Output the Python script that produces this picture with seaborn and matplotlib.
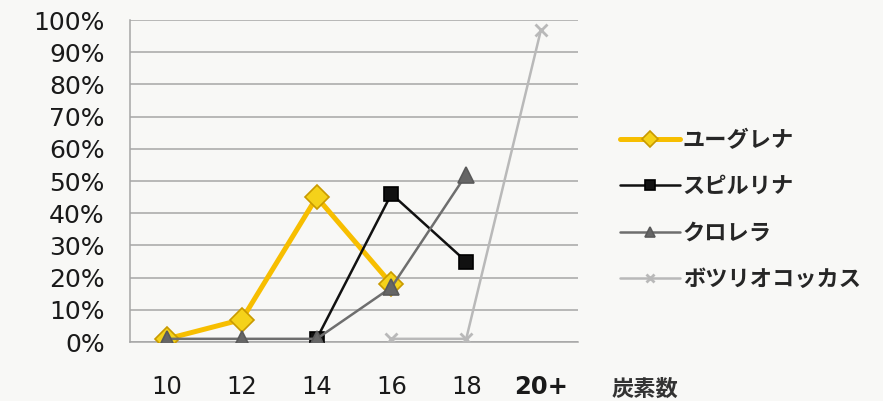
import numpy as np
import pandas as pd
import seaborn as sns
import matplotlib.pyplot as plt
from matplotlib.ticker import FixedLocator, PercentFormatter

sns.set_style("white")
plt.rcParams["font.family"] = ["DejaVu Sans", "Noto Sans CJK JP"]

# Carbon-number categories and fatty-acid share (%) for each alga
categories = ["10", "12", "14", "16", "18", "20+"]
euglena = [1, 7, 45, 18, np.nan, np.nan]
spirulina = [np.nan, np.nan, 1, 46, 25, np.nan]
chlorella = [1, 1, 1, 17, 52, np.nan]
botryococcus = [np.nan, np.nan, np.nan, 1, 1, 97]

series_names = ["ユーグレナ", "スピルリナ", "クロレラ", "ボツリオコッカス"]
series_values = [euglena, spirulina, chlorella, botryococcus]

rows = []
for name, vals in zip(series_names, series_values):
    for i, v in enumerate(vals):
        if not np.isnan(v):
            rows.append({"pos": i, "value": v, "series": name})
df = pd.DataFrame(rows)

styles = {
    "ユーグレナ": dict(color="#F7BE00", lw=3.6, marker="D", ms=12, mfc="#F5D21A", mec="#C99A00"),
    "スピルリナ": dict(color="#111111", lw=1.8, marker="s", ms=10, mfc="#111111", mec="#000000"),
    "クロレラ": dict(color="#6E6E6E", lw=1.8, marker="^", ms=11, mfc="#666666", mec="#5a5a5a"),
    "ボツリオコッカス": dict(color="#B9B9B9", lw=1.8, marker="x", ms=9, mfc="#B9B9B9", mec="#B9B9B9"),
}

bg = "#F8F8F6"
fig = plt.figure(figsize=(8.83, 4.01), dpi=100, facecolor=bg)
ax = fig.add_axes([0.147, 0.147, 0.508, 0.803])
ax.set_facecolor(bg)

for name in series_names:
    st = styles[name]
    sns.lineplot(
        data=df[df["series"] == name], x="pos", y="value", ax=ax,
        color=st["color"], linewidth=st["lw"], marker=st["marker"],
        markersize=st["ms"], markerfacecolor=st["mfc"], markeredgecolor=st["mec"],
        markeredgewidth=1.2 if st["marker"] != "x" else 2.0,
        label=name, zorder=3,
    )

ax.set_xlim(-0.5, len(categories) - 0.5)
ax.set_ylim(0, 100)
ax.yaxis.set_major_locator(FixedLocator(np.arange(0, 101, 10)))
ax.yaxis.set_major_formatter(PercentFormatter(decimals=0))
ax.grid(axis="y", color="#A6A6A6", linewidth=1.1)
ax.set_axisbelow(True)

ax.set_xticks(range(len(categories)))
ax.set_xticklabels(categories)
ax.xaxis.set_minor_locator(FixedLocator(np.arange(-0.5, len(categories), 1.0)))
ax.tick_params(axis="x", which="major", length=0, pad=24, labelsize=17.5, labelcolor="#1a1a1a")
ax.tick_params(axis="x", which="minor", length=7, width=1.1, color="#A6A6A6", direction="out")
ax.tick_params(axis="y", which="major", length=7, width=1.1, color="#A6A6A6", direction="out",
               labelsize=18, labelcolor="#1a1a1a", pad=11)
ax.get_xticklabels()[-1].set_fontweight("bold")

for side in ["top", "right"]:
    ax.spines[side].set_visible(False)
for side in ["left", "bottom"]:
    ax.spines[side].set_color("#A6A6A6")
    ax.spines[side].set_linewidth(1.1)

ax.set_xlabel("")
ax.set_ylabel("")

fig.text(0.693, 0.012, "炭素数", fontsize=16, fontweight="bold", color="#333333",
         family=["Noto Sans CJK JP", "DejaVu Sans"])

handles, labels = ax.get_legend_handles_labels()
if ax.legend_:
    ax.legend_.remove()
leg = fig.legend(handles, labels, loc="center left", bbox_to_anchor=(0.68, 0.477),
                 frameon=False, handlelength=2.7, labelspacing=1.05, handletextpad=0.1,
                 markerscale=0.7,
                 prop={"family": ["Noto Sans CJK JP", "DejaVu Sans"], "weight": "bold", "size": 16})

fig.savefig("out.png", dpi=100, facecolor=bg)
